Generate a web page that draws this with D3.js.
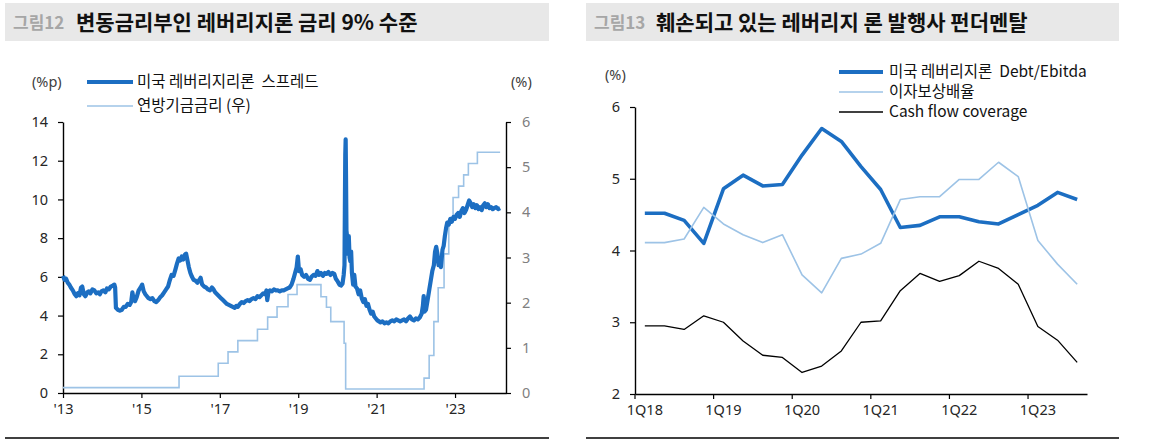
<!DOCTYPE html>
<html><head><meta charset="utf-8">
<script src="https://cdn.jsdelivr.net/npm/d3@7"></script>
<style>
body{margin:0;background:#fff;}
svg{display:block;}
text{white-space:pre;}
</style></head><body>
<svg id="c" width="1153" height="440"></svg>
<script>
// ---------- Left chart data ----------
const spreadDates=[2013.00,2013.04,2013.08,2013.12,2013.16,2013.20,2013.25,2013.30,2013.34,2013.38,2013.42,2013.46,2013.49,2013.53,2013.57,2013.62,2013.66,2013.70,2013.75,2013.80,2013.85,2013.90,2013.94,2013.98,
2014.03,2014.08,2014.12,2014.17,2014.22,2014.27,2014.31,2014.33,2014.35,2014.40,2014.45,2014.50,2014.55,2014.60,2014.65,2014.70,2014.74,2014.77,2014.80,2014.84,2014.88,2014.93,2014.98,
2015.02,2015.06,2015.10,2015.14,2015.18,2015.23,2015.28,2015.33,2015.38,2015.43,2015.48,2015.53,2015.58,2015.63,2015.68,2015.72,2015.77,2015.82,2015.87,2015.91,2015.95,2015.99,
2016.03,2016.07,2016.11,2016.14,2016.17,2016.21,2016.25,2016.29,2016.33,2016.38,2016.43,2016.48,2016.51,2016.55,2016.60,2016.65,2016.70,2016.75,2016.80,2016.84,2016.88,2016.93,2016.98,
2017.03,2017.08,2017.13,2017.18,2017.23,2017.28,2017.33,2017.38,2017.42,2017.46,2017.51,2017.56,2017.61,2017.66,2017.71,2017.76,2017.81,2017.86,2017.91,2017.96,
2018.01,2018.06,2018.11,2018.16,2018.19,2018.21,2018.24,2018.28,2018.33,2018.38,2018.43,2018.48,2018.53,2018.58,2018.63,2018.68,2018.73,2018.78,2018.83,2018.88,2018.92,2018.96,2018.99,
2019.02,2019.06,2019.10,2019.15,2019.20,2019.25,2019.30,2019.34,2019.39,2019.44,2019.49,2019.53,2019.58,2019.63,2019.68,2019.72,2019.77,2019.82,2019.87,2019.92,2019.96,
2020.01,2020.05,2020.09,2020.13,2020.16,2020.18,2020.19,2020.20,2020.21,2020.22,2020.23,2020.25,2020.27,2020.29,2020.31,2020.33,2020.35,2020.37,2020.40,2020.43,2020.46,2020.50,2020.54,2020.58,2020.62,2020.66,2020.70,2020.74,2020.78,2020.82,2020.86,2020.90,2020.94,2020.98,
2021.02,2021.06,2021.10,2021.15,2021.20,2021.25,2021.30,2021.35,2021.40,2021.45,2021.50,2021.55,2021.60,2021.65,2021.70,2021.75,2021.80,2021.85,2021.90,2021.95,
2022.00,2022.05,2022.10,2022.15,2022.18,2022.20,2022.22,2022.26,2022.30,2022.34,2022.38,2022.42,2022.46,2022.49,2022.52,2022.55,2022.58,2022.61,2022.64,2022.68,2022.71,2022.74,2022.77,2022.80,2022.84,2022.88,2022.92,2022.96,
2023.00,2023.04,2023.08,2023.12,2023.16,2023.20,2023.24,2023.28,2023.32,2023.36,2023.40,2023.44,2023.48,2023.52,2023.56,2023.60,2023.64,2023.68,2023.72,2023.76,2023.80,2023.84,2023.88,2023.92,2023.96,
2024.00,2024.05,2024.10,2024.15];
const spreadValues=[6.05,5.85,5.9,5.7,5.6,5.45,5.3,5.1,5.0,5.15,5.05,5.45,5.5,5.1,5.0,5.2,5.25,5.15,5.35,5.3,5.15,5.2,5.1,5.25,
5.3,5.2,5.4,5.35,5.5,5.55,5.6,5.45,4.4,4.3,4.25,4.3,4.45,4.45,4.6,4.55,4.7,5.2,4.85,4.75,4.95,5.3,5.45,
5.6,5.25,5.1,5.0,4.9,4.85,4.9,4.75,4.7,4.8,4.95,5.05,5.2,5.35,5.5,5.8,6.1,6.05,6.4,6.7,6.95,6.85,
7.05,6.9,7.15,7.2,6.9,6.5,6.2,6.0,5.85,5.8,5.7,5.85,5.95,5.6,5.5,5.45,5.35,5.3,5.45,5.35,5.2,5.1,5.0,
4.9,4.8,4.7,4.6,4.55,4.5,4.45,4.4,4.5,4.45,4.6,4.7,4.65,4.75,4.8,4.75,4.85,4.9,4.85,5.0,
4.95,5.05,5.15,5.1,5.3,4.8,5.2,5.3,5.25,5.35,5.3,5.3,5.25,5.3,5.3,5.35,5.4,5.45,5.6,5.9,6.2,6.5,7.05,
6.3,6.4,6.1,6.0,6.1,5.9,5.85,6.0,6.1,6.05,6.3,6.1,6.2,6.05,6.2,6.15,6.25,6.1,6.2,6.15,5.9,
5.75,5.6,5.55,5.65,6.1,6.6,9.5,12.3,13.1,11.0,8.4,8.0,7.2,8.1,7.0,6.8,7.3,6.2,5.6,6.1,5.5,5.4,5.1,5.3,4.9,4.7,4.85,4.5,4.6,4.3,4.1,4.2,3.95,3.85,
3.75,3.7,3.65,3.7,3.6,3.65,3.6,3.7,3.75,3.7,3.8,3.75,3.7,3.75,3.8,3.7,3.85,3.95,3.8,3.75,
3.85,3.8,3.9,4.1,4.5,5.0,4.2,4.3,4.8,5.3,5.8,6.3,6.6,7.3,7.55,7.2,6.6,6.9,6.5,7.4,7.6,8.1,8.5,8.8,8.7,9.0,8.85,9.1,
9.0,9.2,9.3,9.1,9.4,9.55,9.3,9.45,9.7,9.95,9.8,9.6,9.75,9.55,9.7,9.5,9.6,9.45,9.7,9.8,9.6,9.75,9.55,9.6,9.5,
9.55,9.6,9.5,9.55];
const fedDates=[2013.0,2015.96,2016.96,2017.21,2017.46,2017.96,2018.22,2018.46,2018.74,2018.97,2019.58,2019.72,2019.83,2020.17,2020.21,2022.21,2022.34,2022.46,2022.57,2022.72,2022.84,2022.95,2023.09,2023.22,2023.34,2023.57,2024.15];
const fedValues=[0.12,0.37,0.66,0.91,1.16,1.41,1.68,1.91,2.18,2.40,2.13,1.90,1.58,1.10,0.09,0.33,0.83,1.58,2.33,3.08,3.83,4.33,4.58,4.83,5.08,5.33,5.33];
const leftYTicks=[0,2,4,6,8,10,12,14];
const leftY2Ticks=[0,1,2,3,4,5,6];
const leftXTicks=[2013,2015,2017,2019,2021,2023];
const leftXTickLabels=["'13","'15","'17","'19","'21","'23"];
const leftTitleNo="그림12";
const leftTitle="변동금리부인 레버리지론 금리 9% 수준";
const leftLegend=["미국 레버리지리론  스프레드","연방기금금리 (우)"];

// ---------- Right chart data ----------
const quarters=["1Q18","2Q18","3Q18","4Q18","1Q19","2Q19","3Q19","4Q19","1Q20","2Q20","3Q20","4Q20","1Q21","2Q21","3Q21","4Q21","1Q22","2Q22","3Q22","4Q22","1Q23","2Q23","3Q23"];
const debtEbitda=[4.52,4.52,4.42,4.10,4.86,5.05,4.90,4.92,5.33,5.70,5.52,5.17,4.85,4.32,4.35,4.47,4.47,4.40,4.37,4.50,4.63,4.81,4.71];
const interestCoverage=[4.11,4.11,4.16,4.60,4.37,4.22,4.11,4.22,3.66,3.41,3.89,3.95,4.10,4.71,4.75,4.75,4.99,4.99,5.23,5.03,4.14,3.81,3.53];
const cashFlowCoverage=[2.95,2.95,2.90,3.09,3.00,2.74,2.54,2.51,2.30,2.39,2.60,3.00,3.02,3.44,3.68,3.57,3.65,3.85,3.75,3.53,2.94,2.75,2.44];
const rightYTicks=[2,3,4,5,6];
const rightXTicks=["1Q18","1Q19","1Q20","1Q21","1Q22","1Q23"];
const rightTitleNo="그림13";
const rightTitle="훼손되고 있는 레버리지 론 발행사 펀더멘탈";
const rightLegend=["미국 레버리지론  Debt/Ebitda","이자보상배율","Cash flow coverage"];

// ---------- styles ----------
const FONT='"Noto Sans","Noto Sans CJK KR",sans-serif';
const KFONT='"Noto Sans CJK KR","Noto Sans",sans-serif';
const BLUE="#1C6EC2", LIGHT="#9DC3E6", DARK="#000";
const svg=d3.select("#c");
const fmtInt=d3.format("d");

function titleBar(x0,x1,no,title,titleX){
  svg.append("rect").attr("x",x0).attr("y",3).attr("width",x1-x0).attr("height",38).attr("fill","#e8e8e8");
  svg.append("text").attr("x",x0+8).attr("y",29).attr("font-family",KFONT).attr("font-weight",700)
    .attr("font-size",17).attr("fill","#a6a6a6").text(no);
  svg.append("text").attr("x",titleX).attr("y",30).attr("font-family",KFONT).attr("font-weight",700)
    .attr("font-size",21).attr("fill","#111").text(title);
  svg.append("line").attr("x1",x0).attr("x2",x1).attr("y1",438).attr("y2",438).attr("stroke","#000").attr("stroke-width",1.3);
}
function styleAxis(g,color,size){
  g.attr("font-family",FONT);
  g.select(".domain").attr("stroke","#000").attr("stroke-width",1.4);
  g.selectAll(".tick line").attr("stroke","#000").attr("stroke-width",1.2);
  g.selectAll(".tick text").attr("fill",color).attr("font-size",size);
}

// ===== LEFT CHART =====
titleBar(5,549,leftTitleNo,leftTitle,76);
const xL=d3.scaleLinear().domain([2013,2024.3]).range([63,506]);
const yL=d3.scaleLinear().domain([0,14]).range([393,122]);
const yL2=d3.scaleLinear().domain([0,6]).range([393,122]);

const gLY=svg.append("g").attr("transform","translate(63,0)")
  .call(d3.axisLeft(yL).tickValues(leftYTicks).tickFormat(fmtInt).tickSize(5).tickSizeOuter(0).tickPadding(10));
styleAxis(gLY,"#262626",14.5);
const gLY2=svg.append("g").attr("transform","translate(506,0)")
  .call(d3.axisRight(yL2).tickValues(leftY2Ticks).tickFormat(fmtInt).tickSize(5).tickSizeOuter(0).tickPadding(11));
styleAxis(gLY2,"#7f7f7f",14.5);
const gLX=svg.append("g").attr("transform","translate(0,393)")
  .call(d3.axisBottom(xL).tickValues(leftXTicks).tickFormat((d,i)=>leftXTickLabels[i]).tickSize(5).tickSizeOuter(0).tickPadding(6));
styleAxis(gLX,"#262626",14.5);

const fedData=fedDates.map((d,i)=>({d,v:fedValues[i]}));
svg.append("path").datum(fedData)
  .attr("d",d3.line().x(p=>xL(p.d)).y(p=>yL2(p.v)).curve(d3.curveStepAfter))
  .attr("fill","none").attr("stroke",LIGHT).attr("stroke-width",1.6);
const spreadData=spreadDates.map((d,i)=>({d,v:spreadValues[i]}));
svg.append("path").datum(spreadData)
  .attr("d",d3.line().x(p=>xL(p.d)).y(p=>yL(p.v)))
  .attr("fill","none").attr("stroke",BLUE).attr("stroke-width",4.2).attr("stroke-linejoin","round");

// legend left
svg.append("text").attr("x",32).attr("y",82).attr("dy","0.35em").attr("font-family",FONT).attr("font-size",14.5).attr("fill","#404040").text("(%p)");
svg.append("text").attr("x",511).attr("y",82).attr("dy","0.35em").attr("font-family",FONT).attr("font-size",14.5).attr("fill","#404040").text("(%)");
[[BLUE,4,82],[LIGHT,1.6,106]].forEach((s,i)=>{
  svg.append("line").attr("x1",87).attr("x2",133).attr("y1",s[2]).attr("y2",s[2]).attr("stroke",s[0]).attr("stroke-width",s[1]);
  svg.append("text").attr("x",137).attr("y",s[2]).attr("dy","0.35em").attr("font-family",KFONT).attr("font-size",15.5).attr("fill","#111").text(leftLegend[i]);
});

// ===== RIGHT CHART =====
titleBar(586,1119,rightTitleNo,rightTitle,656);
const xR=d3.scaleBand().domain(quarters).range([635,1087]).padding(0);
const bw=xR.bandwidth();
const yR=d3.scaleLinear().domain([2,6]).range([394,107]);

const gRY=svg.append("g").attr("transform","translate(635,0)")
  .call(d3.axisLeft(yR).tickValues(rightYTicks).tickFormat(fmtInt).tickSize(5).tickSizeOuter(0).tickPadding(10));
styleAxis(gRY,"#262626",14.5);
const gRX=svg.append("g").attr("transform","translate(0,394)")
  .call(d3.axisBottom(xR).tickValues(rightXTicks).tickSize(5).tickSizeOuter(0).tickPadding(6));
styleAxis(gRX,"#262626",14.5);
gRX.selectAll(".tick line").attr("x1",-bw/2).attr("x2",-bw/2);

const cx=q=>xR(q)+bw/2;
[[debtEbitda,BLUE,3.6],[interestCoverage,LIGHT,1.6],[cashFlowCoverage,DARK,1.3]].forEach(s=>{
  svg.append("path").datum(s[0])
    .attr("d",d3.line().x((v,i)=>cx(quarters[i])).y(v=>yR(v)))
    .attr("fill","none").attr("stroke",s[1]).attr("stroke-width",s[2]).attr("stroke-linejoin","round");
});

svg.append("text").attr("x",605).attr("y",75).attr("dy","0.35em").attr("font-family",FONT).attr("font-size",14.5).attr("fill","#404040").text("(%)");
[[BLUE,4,72],[LIGHT,1.6,92],[DARK,1.3,112]].forEach((s,i)=>{
  svg.append("line").attr("x1",839).attr("x2",883).attr("y1",s[2]).attr("y2",s[2]).attr("stroke",s[0]).attr("stroke-width",s[1]);
  svg.append("text").attr("x",889).attr("y",s[2]).attr("dy","0.35em").attr("font-family",KFONT).attr("font-size",15.5).attr("fill","#111").text(rightLegend[i]);
});
</script>
</body></html>
